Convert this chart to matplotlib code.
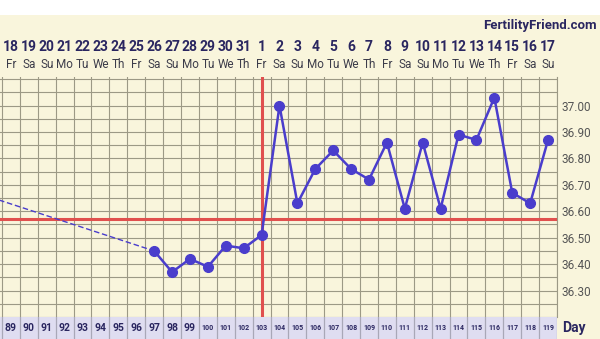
import matplotlib
matplotlib.use("Agg")
import matplotlib.pyplot as plt

# cycle days shown on the chart and their calendar dates
cycle_days = list(range(89, 120))
dates = [18, 19, 20, 21, 22, 23, 24, 25, 26, 27, 28, 29, 30, 31,
         1, 2, 3, 4, 5, 6, 7, 8, 9, 10, 11, 12, 13, 14, 15, 16, 17]
weekdays = ["Fr", "Sa", "Su", "Mo", "Tu", "We", "Th",
            "Fr", "Sa", "Su", "Mo", "Tu", "We", "Th",
            "Fr", "Sa", "Su", "Mo", "Tu", "We", "Th",
            "Fr", "Sa", "Su", "Mo", "Tu", "We", "Th",
            "Fr", "Sa", "Su"]

# temperatures
temp_days = list(range(97, 120))
temps = [36.45, 36.37, 36.42, 36.39, 36.47, 36.46, 36.51,
         37.00, 36.63, 36.76, 36.83, 36.76, 36.72, 36.86,
         36.61, 36.86, 36.61, 36.89, 36.87, 37.03, 36.67,
         36.63, 36.87]
# last reading before the gap (off the left edge)
prev_day = 88
prev_temp = 36.65

coverline = 36.57
ovulation_day = 103
ytick_vals = [36.30, 36.40, 36.50, 36.60, 36.70, 36.80, 36.90, 37.00]

cream = "#f9f5dc"
navy = "#2a2660"
purple = "#4a3dcc"
red = "#e0504e"
gridc = "#9c9985"
W, H = 600, 339

fig = plt.figure(figsize=(6, 3.39), dpi=100)
fig.patch.set_facecolor("white")

# cream page below the white strip at the top
bg = fig.add_axes([0, 0, 1, 1 - 15 / H], zorder=-5)
bg.set_facecolor(cream)
bg.set_xticks([])
bg.set_yticks([])
for s in bg.spines.values():
    s.set_visible(False)

x0, x1 = 88.39, 119.5
px_right = 557
top_px, bot_px = 77, 317
ax = fig.add_axes([0, (H - bot_px) / H, px_right / W, (bot_px - top_px) / H])
ax.set_facecolor(cream)
ax.set_xlim(x0, x1)
ax.set_ylim(36.2145, 37.108)

# grid
ax.set_xticks([d + 0.5 for d in range(88, 120)])
ax.set_xticklabels([])
ax.tick_params(axis="x", length=0)
ax.set_yticks([i * 0.05 + 36.2 for i in range(19)], minor=True)
ax.set_yticks(ytick_vals)
ax.set_yticklabels(["%.2f" % v for v in ytick_vals])
ax.yaxis.tick_right()
ax.tick_params(axis="y", which="both", length=0, pad=3, labelsize=8.5,
               labelcolor="#555555")
for lab in ax.get_yticklabels():
    lab.set_family("Roboto")
ax.grid(True, which="both", color=gridc, linewidth=0.8)
for s in ax.spines.values():
    s.set_visible(False)
ax.spines["right"].set_visible(True)
ax.spines["right"].set_color(gridc)

# coverline and ovulation marker
ax.axhline(coverline, color=red, linewidth=2.2, zorder=3)
ax.axvline(ovulation_day, color=red, linewidth=2.2, zorder=3)

# dashed gap line and temperature curve
ax.plot([prev_day, temp_days[0]], [prev_temp, temps[0]], color=purple,
        linewidth=1.0, linestyle=(0, (4, 2)), zorder=4)
ax.plot(temp_days, temps, color=purple, linewidth=1.8, marker="o",
        markersize=7, zorder=5)

# date / weekday header
tr = ax.get_xaxis_transform()
for d, dt, wd in zip(cycle_days, dates, weekdays):
    ax.text(d, (bot_px - 47) / (bot_px - top_px), str(dt), transform=tr,
            ha="center", va="center", fontsize=10, fontweight="bold",
            color=navy, family="Roboto")
    ax.text(d, (bot_px - 65) / (bot_px - top_px), wd, transform=tr,
            ha="center", va="center", fontsize=8.5, color="#3c3c4a",
            family="Roboto")

fig.text(597 / W, 1 - 25 / H, "FertilityFriend.com", ha="right", va="center",
         fontsize=9.5, fontweight="bold", color=navy, family="Roboto")

# cycle day strip along the bottom
bx = fig.add_axes([0, 0, px_right / W, (H - bot_px) / H])
bx.set_facecolor("#dfddf1")
bx.set_xlim(x0, x1)
bx.set_ylim(0, 1)
bx.set_xticks([d + 0.5 for d in range(88, 120)])
bx.set_xticklabels([])
bx.set_yticks([])
bx.tick_params(axis="x", length=0)
bx.grid(True, axis="x", color="#a9a8b8", linewidth=0.9)
for s in bx.spines.values():
    s.set_visible(False)
for d in cycle_days:
    bx.text(d, 0.5, str(d), ha="center", va="center",
            fontsize=7.5 if d < 100 else 5, fontweight="bold", color=navy,
            family="Roboto")
fig.text(562 / W, 11 / H, "Day", ha="left", va="center", fontsize=10,
         fontweight="bold", color=navy, family="Roboto")

fig.savefig("out.png", dpi=100)
